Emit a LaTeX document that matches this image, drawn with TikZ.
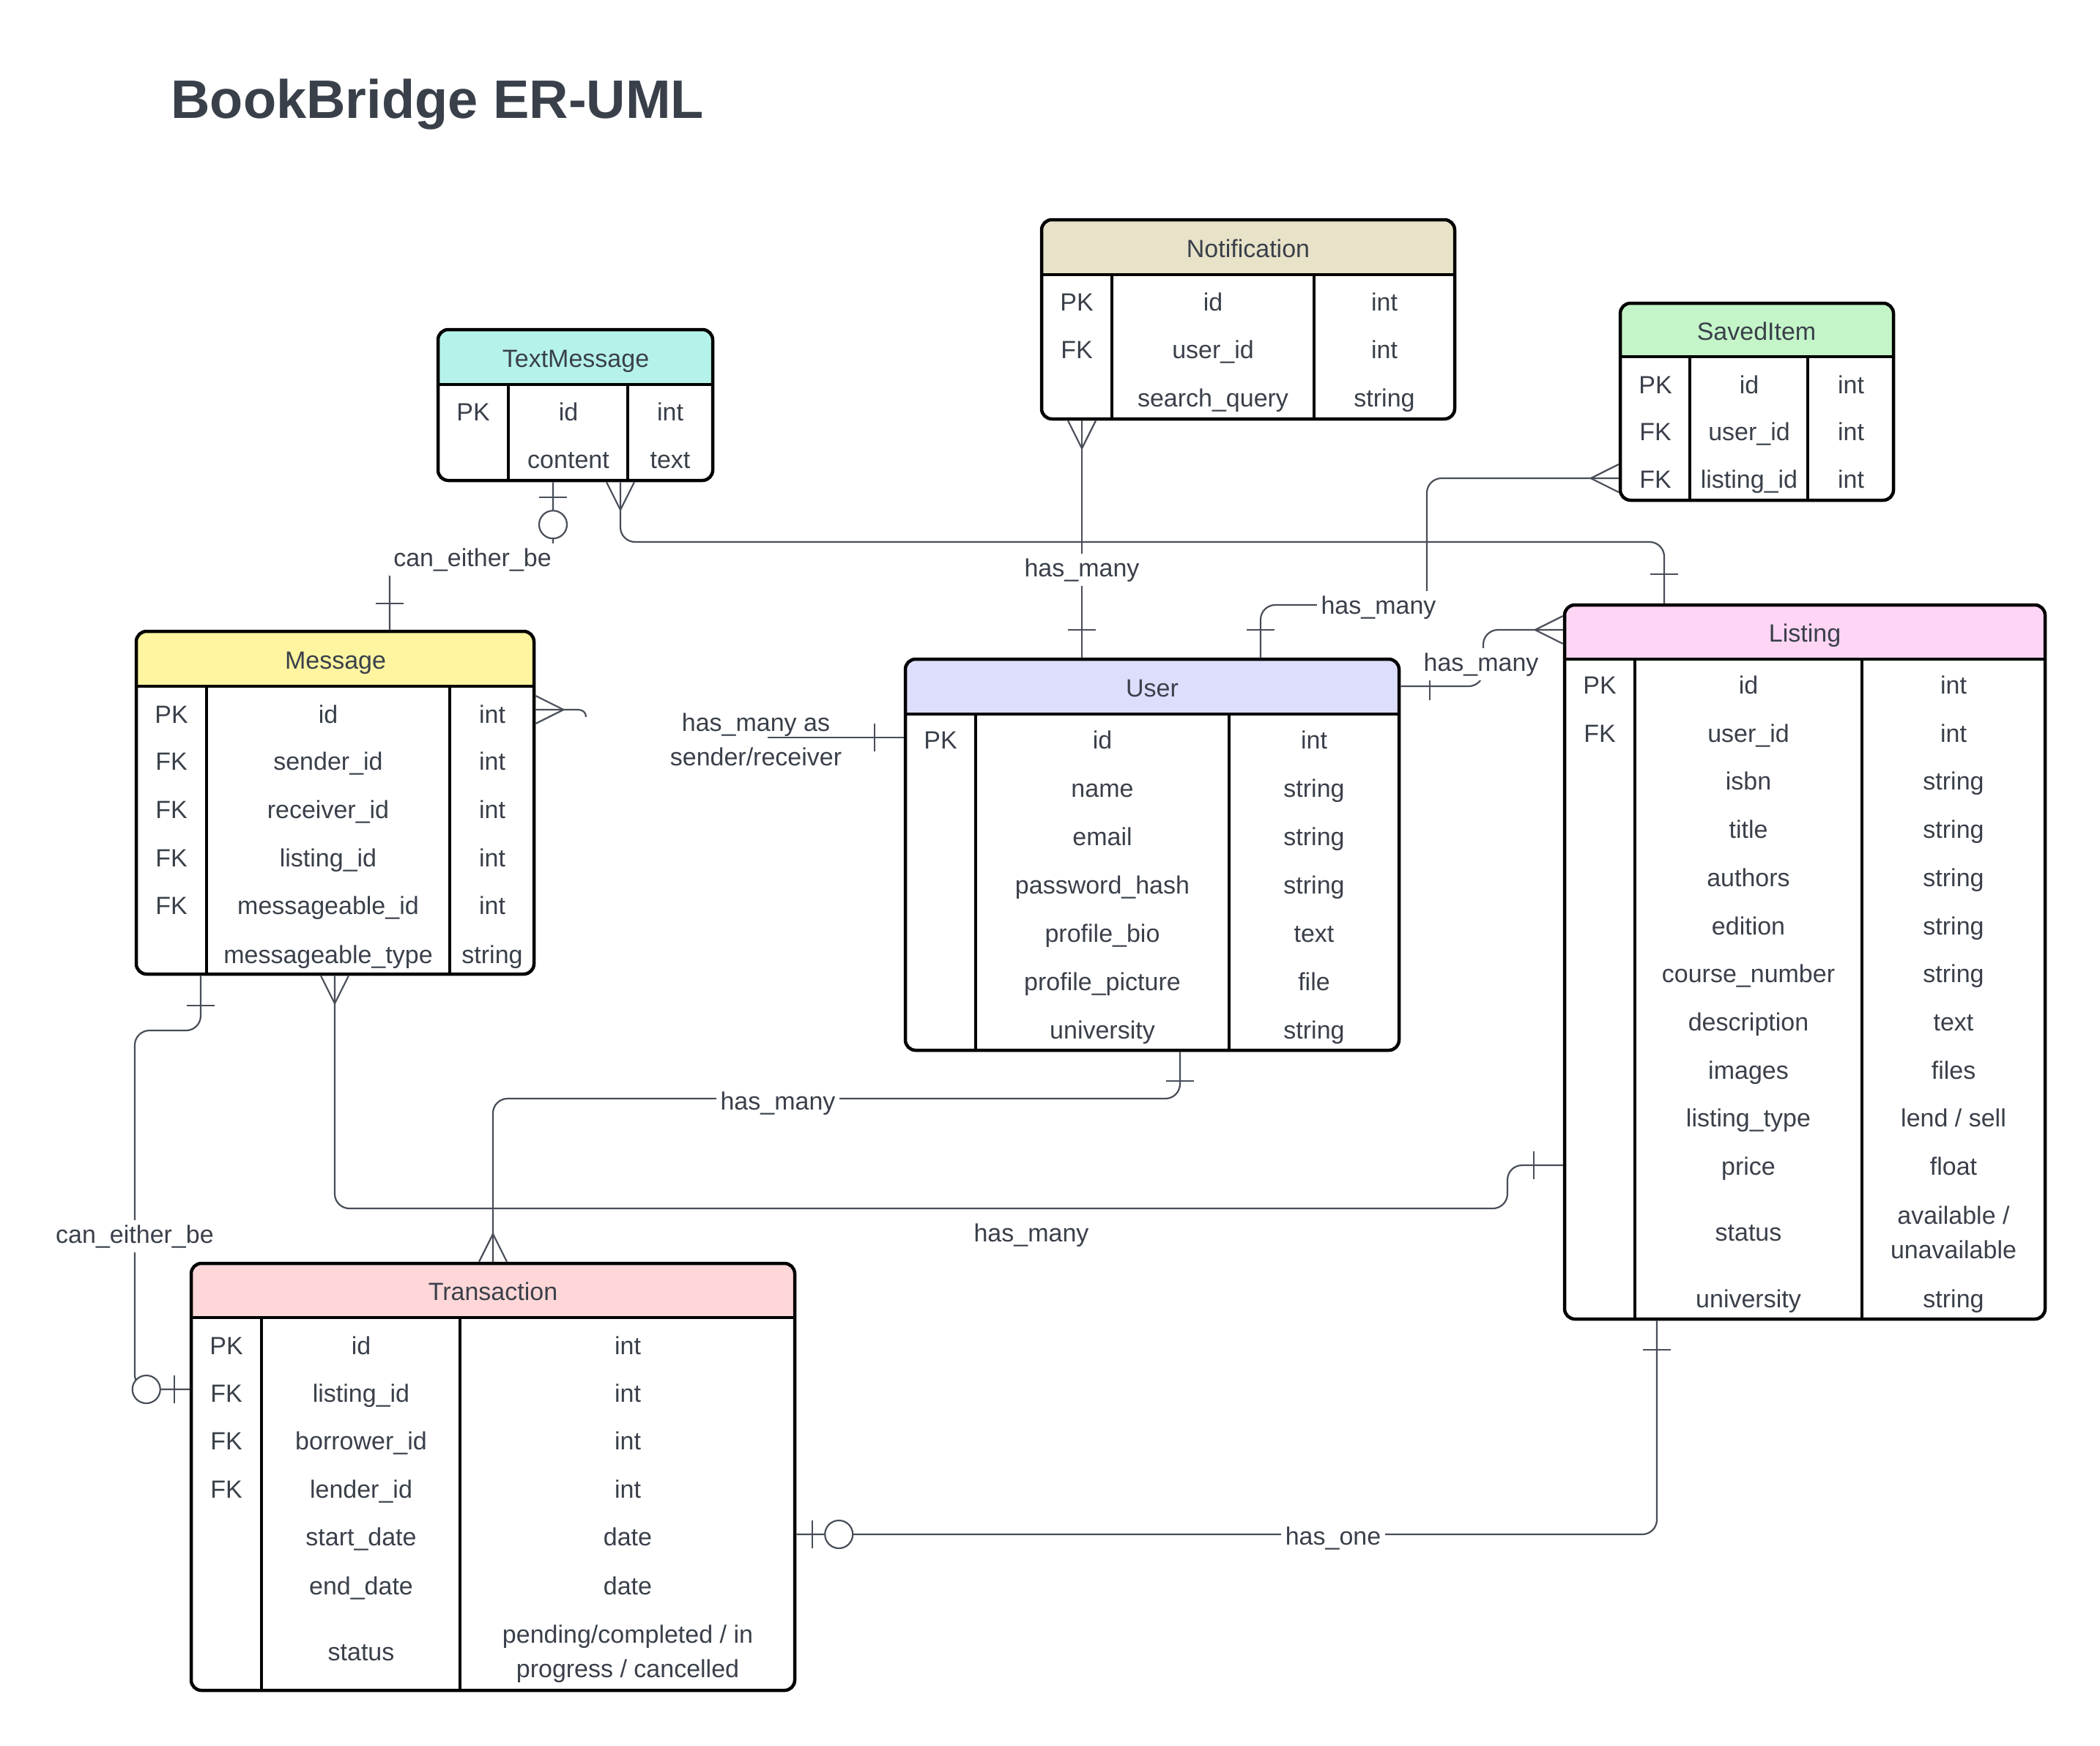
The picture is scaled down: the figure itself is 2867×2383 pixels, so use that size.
\documentclass[tikz,border=0pt]{standalone}
\usepackage{fontspec}
\setmainfont{Liberation Sans}
\usetikzlibrary{calc,fit}
\definecolor{ink}{RGB}{58,64,74}
\definecolor{wire}{RGB}{72,78,88}
\definecolor{cNotif}{RGB}{232,226,200}
\definecolor{cSaved}{RGB}{196,245,200}
\definecolor{cText}{RGB}{181,243,234}
\definecolor{cMsg}{RGB}{255,245,160}
\definecolor{cUser}{RGB}{221,222,252}
\definecolor{cList}{RGB}{254,213,244}
\definecolor{cTrans}{RGB}{255,215,216}
\tikzset{
 conn/.style={draw=wire, line width=1.1pt, rounded corners=10pt},
 mk/.style={draw=wire, line width=1.1pt},
 box/.style={draw=black, line width=2.25pt, rounded corners=7pt, inner sep=0pt},
 div/.style={draw=black, line width=2.25pt},
 txt/.style={text=ink, font=\fontsize{17}{23.5}\selectfont, inner sep=0pt, anchor=base},
 mtxt/.style={text=ink, font=\fontsize{17}{23.5}\selectfont, inner sep=0pt, align=center},
 lbl/.style={text=ink, font=\fontsize{17}{23.5}\selectfont, fill=white, inner sep=3pt, anchor=base},
}
% entity: name, x1, y1, x2, y2, header bottom, divider1, divider2, colour
\newcommand\entity[9]{%
 \begin{scope}
 \clip[rounded corners=7pt] (#2,#3) rectangle (#4,#5);
 \fill[#9] (#2,#3) rectangle (#4,#6);
 \end{scope}
 \draw[div] (#2,#6) -- (#4,#6) (#7,#6) -- (#7,#5) (#8,#6) -- (#8,#5);
 \node[box, fit={(#2,#3) (#4,#5)}] (#1) {};
}
% row: prefix, index, y, xk, xn, xt, key, name, type
\newcommand\erow[9]{%
 \node[txt] (#1-k#2) at (#4,{#3+12}) {#7};
 \node[txt] (#1-n#2) at (#5,{#3+12}) {#8};
 \node[txt] (#1-t#2) at (#6,{#3+12}) {#9};
}
\newcommand\crow[3]{%
 \draw[mk] ($(#1)+({38*#2},{38*#3})$) -- ($(#1)+({19*#3},{19*#2})$)
 ($(#1)+({38*#2},{38*#3})$) -- ($(#1)+({-19*#3},{-19*#2})$);}
\newcommand\erbar[4]{%
 \draw[mk] ($(#1)+({#4*#2+19*#3},{#4*#3+19*#2})$) -- ($(#1)+({#4*#2-19*#3},{#4*#3-19*#2})$);}
\newcommand\ercirc[4]{%
 \draw[mk, fill=white] ($(#1)+({#4*#2},{#4*#3})$) circle[radius=9.5pt];}

\begin{document}
\begin{tikzpicture}[x=0.5pt,y=-0.5pt]
\fill[white] (0,0) rectangle (2867,2383);
\useasboundingbox (0,0) rectangle (2867,2383);

\node[text=ink, font=\fontsize{37}{44}\selectfont\bfseries, anchor=base west, inner sep=0pt] (title) at (233,161) {BookBridge ER-UML};

% ---------- entities ----------
\entity{ntf}{1422}{300}{1986}{572}{375}{1518}{1794}{cNotif}
\node[txt] (ntf-h) at (1704,351) {Notification};
\erow{ntf}{1}{412}{1470}{1656}{1890}{PK}{id}{int}
\erow{ntf}{2}{477}{1470}{1656}{1890}{FK}{user\_id}{int}
\erow{ntf}{3}{543}{1470}{1656}{1890}{}{search\_query}{string}

\entity{sav}{2212}{414}{2585}{683}{487}{2307}{2468}{cSaved}
\node[txt] (sav-h) at (2398,464) {SavedItem};
\erow{sav}{1}{525}{2260}{2388}{2527}{PK}{id}{int}
\erow{sav}{2}{589}{2260}{2388}{2527}{FK}{user\_id}{int}
\erow{sav}{3}{654}{2260}{2388}{2527}{FK}{listing\_id}{int}

\entity{tm}{598}{450}{973}{656}{525}{694}{857}{cText}
\node[txt] (tm-h) at (786,501) {TextMessage};
\erow{tm}{1}{562}{646}{776}{915}{PK}{id}{int}
\erow{tm}{2}{627}{646}{776}{915}{}{content}{text}

\entity{msg}{186}{862}{729}{1330}{937}{282}{614}{cMsg}
\node[txt] (msg-h) at (458,913) {Message};
\erow{msg}{1}{975}{234}{448}{672}{PK}{id}{int}
\erow{msg}{2}{1039}{234}{448}{672}{FK}{sender\_id}{int}
\erow{msg}{3}{1105}{234}{448}{672}{FK}{receiver\_id}{int}
\erow{msg}{4}{1171}{234}{448}{672}{FK}{listing\_id}{int}
\erow{msg}{5}{1236}{234}{448}{672}{FK}{messageable\_id}{int}
\erow{msg}{6}{1303}{234}{448}{672}{}{messageable\_type}{string}

\entity{usr}{1236}{900}{1910}{1434}{975}{1332}{1678}{cUser}
\node[txt] (usr-h) at (1573,951) {User};
\erow{usr}{1}{1010}{1284}{1505}{1794}{PK}{id}{int}
\erow{usr}{2}{1076}{1284}{1505}{1794}{}{name}{string}
\erow{usr}{3}{1142}{1284}{1505}{1794}{}{email}{string}
\erow{usr}{4}{1208}{1284}{1505}{1794}{}{password\_hash}{string}
\erow{usr}{5}{1274}{1284}{1505}{1794}{}{profile\_bio}{text}
\erow{usr}{6}{1340}{1284}{1505}{1794}{}{profile\_picture}{file}
\erow{usr}{7}{1406}{1284}{1505}{1794}{}{university}{string}

\entity{lst}{2136}{826}{2792}{1801}{900}{2232}{2542}{cList}
\node[txt] (lst-h) at (2464,876) {Listing};
\erow{lst}{1}{935}{2184}{2387}{2667}{PK}{id}{int}
\erow{lst}{2}{1001}{2184}{2387}{2667}{FK}{user\_id}{int}
\erow{lst}{3}{1066}{2184}{2387}{2667}{}{isbn}{string}
\erow{lst}{4}{1132}{2184}{2387}{2667}{}{title}{string}
\erow{lst}{5}{1198}{2184}{2387}{2667}{}{authors}{string}
\erow{lst}{6}{1264}{2184}{2387}{2667}{}{edition}{string}
\erow{lst}{7}{1329}{2184}{2387}{2667}{}{course\_number}{string}
\erow{lst}{8}{1395}{2184}{2387}{2667}{}{description}{text}
\erow{lst}{9}{1461}{2184}{2387}{2667}{}{images}{files}
\erow{lst}{10}{1526}{2184}{2387}{2667}{}{listing\_type}{lend / sell}
\erow{lst}{11}{1592}{2184}{2387}{2667}{}{price}{float}
\node[txt] (lst-n12) at (2387,1694) {status};
\node[mtxt] (lst-t12) at (2667,1683) {available /\\unavailable};
\erow{lst}{13}{1773}{2184}{2387}{2667}{}{university}{string}

\entity{trn}{261}{1725}{1085}{2308}{1799}{357}{628}{cTrans}
\node[txt] (trn-h) at (673,1775) {Transaction};
\erow{trn}{1}{1837}{309}{493}{857}{PK}{id}{int}
\erow{trn}{2}{1902}{309}{493}{857}{FK}{listing\_id}{int}
\erow{trn}{3}{1967}{309}{493}{857}{FK}{borrower\_id}{int}
\erow{trn}{4}{2033}{309}{493}{857}{FK}{lender\_id}{int}
\erow{trn}{5}{2098}{309}{493}{857}{}{start\_date}{date}
\erow{trn}{6}{2165}{309}{493}{857}{}{end\_date}{date}
\node[txt] (trn-n7) at (493,2267) {status};
\node[mtxt] (trn-t7) at (857,2258) {pending/completed / in\\progress / cancelled};

% ---------- connector end points ----------
\coordinate (c1a) at (755,0 |- tm.south);   \coordinate (c1b) at (532,0 |- msg.north);
\coordinate (c2a) at (847,0 |- tm.south);   \coordinate (c2b) at (2272,0 |- lst.north);
\coordinate (c3a) at (1477,0 |- ntf.south); \coordinate (c3b) at (1477,0 |- usr.north);
\coordinate (c4a) at (sav.west |- 0,653);   \coordinate (c4b) at (1721,0 |- usr.north);
\coordinate (c5a) at (usr.east |- 0,937);   \coordinate (c5b) at (lst.west |- 0,860);
\coordinate (c6a) at (msg.east |- 0,969);   \coordinate (c6e) at (800,979);
\coordinate (c6s) at (1048,1007);           \coordinate (c6b) at (usr.west |- 0,1007);
\coordinate (c7a) at (1611,0 |- usr.south); \coordinate (c7b) at (673,0 |- trn.north);
\coordinate (c8a) at (457,0 |- msg.south);  \coordinate (c8b) at (lst.west |- 0,1591);
\coordinate (c9a) at (trn.east |- 0,2095);  \coordinate (c9b) at (2262,0 |- lst.south);
\coordinate (c10a) at (274,0 |- msg.south); \coordinate (c10b) at (trn.west |- 0,1897);

% ---------- connectors ----------
\draw[conn] (c1a) -- (755,763) -- (532,763) -- (c1b);
\draw[conn] (c2a) -- (847,740) -- (2272,740) -- (c2b);
\draw[conn] (c3a) -- (c3b);
\draw[conn] (c4a) -- (1948,653) -- (1948,826) -- (1721,826) -- (c4b);
\draw[conn] (c5a) -- (2025,937) -- (2025,860) -- (c5b);
\draw[mk] (c6a) -- (789,969) .. controls (796,969) and (800,973) .. (c6e);
\draw[conn] (c6s) -- (c6b);
\draw[conn] (c7a) -- (1611,1500) -- (673,1500) -- (c7b);
\draw[conn] (c8a) -- (457,1650) -- (2058,1650) -- (2058,1591) -- (c8b);
\draw[conn] (c9a) -- (2262,2095) -- (c9b);
\draw[conn] (c10a) -- (274,1407) -- (184,1407) -- (184,1897) [sharp corners] -- (c10b);

% ---------- end markers ----------
\erbar{c1a}{0}{1}{21} \ercirc{c1a}{0}{1}{58} \erbar{c1b}{0}{-1}{36}
\crow{c2a}{0}{1} \erbar{c2b}{0}{-1}{40}
\crow{c3a}{0}{1} \erbar{c3b}{0}{-1}{38}
\crow{c4a}{-1}{0} \erbar{c4b}{0}{-1}{38}
\erbar{c5a}{1}{0}{40} \crow{c5b}{-1}{0}
\crow{c6a}{1}{0} \erbar{c6b}{-1}{0}{40}
\erbar{c7a}{0}{1}{40} \crow{c7b}{0}{-1}
\crow{c8a}{0}{1} \erbar{c8b}{-1}{0}{40}
\erbar{c9a}{1}{0}{22} \ercirc{c9a}{1}{0}{58} \erbar{c9b}{0}{1}{40}
\erbar{c10a}{0}{1}{41} \erbar{c10b}{-1}{0}{21} \ercirc{c10b}{-1}{0}{59}

% ---------- labels ----------
\node[lbl] (l1) at (645,773) {can\_either\_be};
\node[lbl] (l3) at (1477,787) {has\_many};
\node[lbl] (l4) at (1882,838) {has\_many};
\node[lbl] (l5) at (2022,916) {has\_many};
\node[mtxt] (l6) at (1032,1010) {has\_many as\\sender/receiver};
\node[lbl] (l7) at (1062,1515) {has\_many};
\node[txt] (l8) at (1408,1695) {has\_many};
\node[lbl] (l9) at (1820,2109) {has\_one};
\node[lbl] (l10) at (184,1697) {can\_either\_be};
\end{tikzpicture}
\end{document}
